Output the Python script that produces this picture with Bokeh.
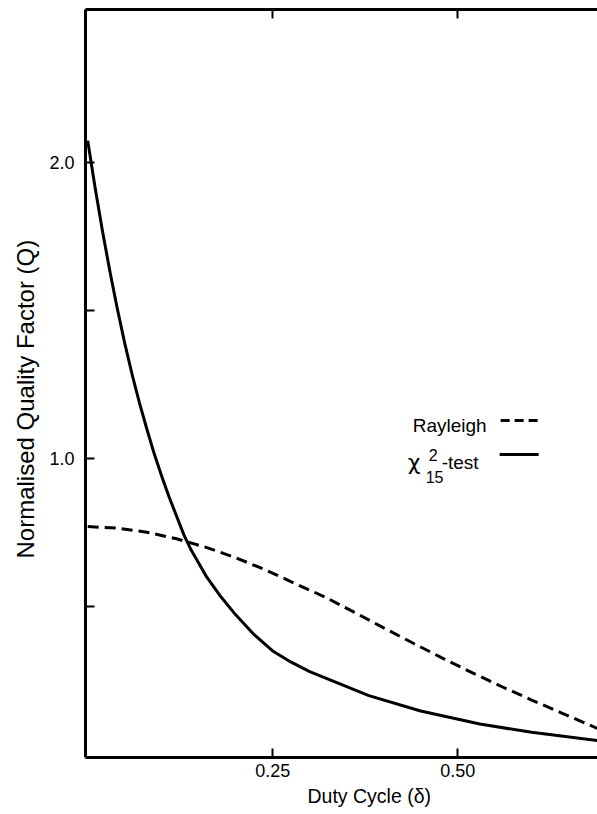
from bokeh.plotting import figure
from bokeh.models import Range1d, LinearAxis, FixedTicker, Label, Title
from bokeh.embed import file_html
from bokeh.resources import INLINE

# Data
chi_delta = [0.000, 0.010, 0.020, 0.030, 0.040, 0.050, 0.060, 0.070, 0.080, 0.090,
             0.100, 0.110, 0.120, 0.130, 0.140, 0.160, 0.180, 0.200, 0.225, 0.250,
             0.275, 0.300, 0.330, 0.380, 0.450, 0.530, 0.600, 0.689]
chi_q = [2.074, 1.915, 1.768, 1.632, 1.506, 1.390, 1.284, 1.187, 1.099, 1.015,
         0.940, 0.870, 0.806, 0.742, 0.690, 0.603, 0.533, 0.472, 0.405, 0.350,
         0.312, 0.280, 0.250, 0.199, 0.147, 0.103, 0.075, 0.047]

ray_delta = [0.000, 0.040, 0.080, 0.120, 0.160, 0.200, 0.240, 0.280, 0.320, 0.360,
             0.400, 0.440, 0.480, 0.520, 0.560, 0.600, 0.640, 0.689]
ray_q = [0.770, 0.765, 0.751, 0.729, 0.700, 0.665, 0.624, 0.578, 0.533, 0.481,
         0.428, 0.376, 0.325, 0.276, 0.229, 0.184, 0.141, 0.088]

x_ticks = [0.25, 0.5]
x_tick_labels = {0.25: "0.25", 0.5: "0.50"}
y_ticks = [0.5, 1.0, 1.5, 2.0]
y_tick_labels = {0.5: "", 1.0: "1.0", 1.5: "", 2.0: "2.0"}

FONT = "Liberation Sans"

p = figure(width=597, height=814,
           x_range=Range1d(-0.003, 0.689), y_range=Range1d(-0.01, 2.517),
           output_backend="svg", toolbar_location=None,
           min_border_left=85, min_border_right=0, min_border_top=9, min_border_bottom=57)
p.outline_line_color = None
p.xgrid.visible = False
p.ygrid.visible = False
p.background_fill_color = "white"
p.border_fill_color = "white"

# curves
p.line(chi_delta, chi_q, line_color="black", line_width=3, line_join="round")
p.line(ray_delta, ray_q, line_color="black", line_width=3, line_dash="11 6")

def style_axis(ax):
    ax.axis_line_width = 3
    ax.axis_line_color = "black"
    ax.major_tick_in = 9
    ax.major_tick_out = 0
    ax.major_tick_line_width = 2
    ax.minor_tick_line_color = None
    ax.major_label_text_font = FONT
    ax.major_label_text_font_size = "18px"
    ax.major_label_text_color = "black"

xa = p.xaxis[0]
style_axis(xa)
xa.ticker = FixedTicker(ticks=x_ticks)
xa.major_label_overrides = x_tick_labels
xa.major_label_standoff = 6

ya = p.yaxis[0]
style_axis(ya)
ya.ticker = FixedTicker(ticks=y_ticks)
ya.major_label_overrides = y_tick_labels
ya.major_label_standoff = 11

top = LinearAxis(ticker=FixedTicker(ticks=x_ticks))
style_axis(top)
top.major_label_text_font_size = "0px"
top.major_label_standoff = 0
top.major_label_overrides = {0.25: "", 0.5: ""}
p.add_layout(top, "above")

# axis titles as Titles so they can be shifted like in the reference
xt = Title(text="Duty Cycle (δ)", align="left", offset=222, standoff=6,
           text_font=FONT, text_font_size="19.5px", text_font_style="normal",
           text_color="black")
p.add_layout(xt, "below")
yt = Title(text="Normalised Quality Factor (Q)", align="left", offset=199, standoff=15,
           text_font=FONT, text_font_size="24px", text_font_style="normal",
           text_color="black")
p.add_layout(yt, "left")

# pixel helpers for legend placement
def dx(px):
    return (px - 87) / 740.0

def dy(py):
    return (754 - py) / 296.0

def lab(text, px, py, size, align="left", font=FONT):
    p.add_layout(Label(x=dx(px), y=dy(py), text=text, text_font=font,
                       text_font_size=size, text_align=align,
                       text_baseline="alphabetic", text_color="black"))

# legend (text left of the line sample)
lab("Rayleigh", 486, 425, "19px", "right")
lab("χ", 407, 462, "22px", font="DejaVu Sans")
lab("2", 428, 454, "16px")
lab("15", 425, 476, "16px")
lab("-test", 441, 462, "19px")

p.segment(x0=[dx(500)], y0=[dy(420)], x1=[dx(537)], y1=[dy(420)],
          line_color="black", line_width=3, line_dash="9 5")
p.segment(x0=[dx(499)], y0=[dy(454)], x1=[dx(538)], y1=[dy(454)],
          line_color="black", line_width=3)

open("out.html", "w").write(file_html(p, INLINE))
